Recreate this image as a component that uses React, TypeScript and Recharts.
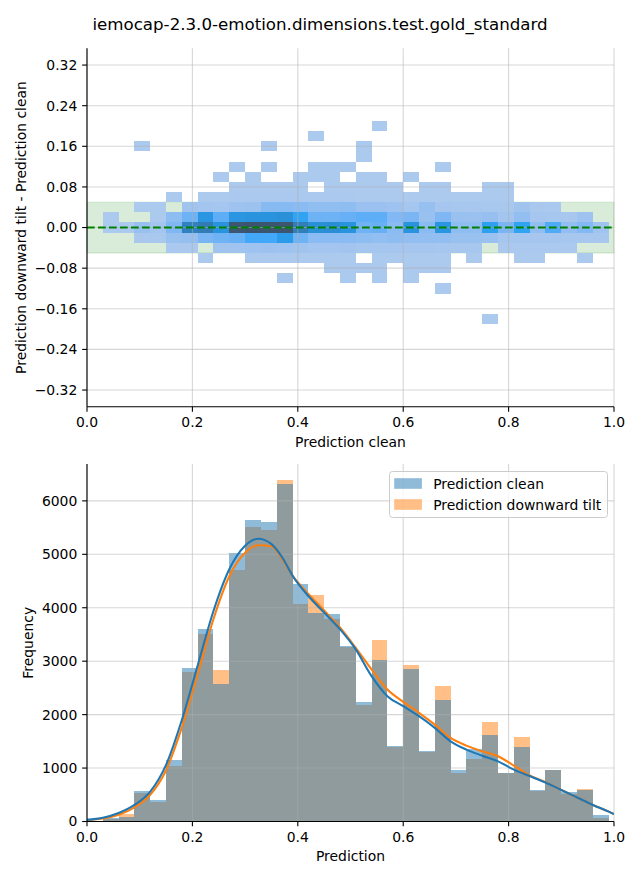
import React from 'react';
import {
  ComposedChart,
  XAxis,
  YAxis,
  Line,
  ReferenceArea,
  ReferenceLine,
  Legend,
  Label,
} from 'recharts';

const FONT = "'DejaVu Sans', 'Liberation Sans', sans-serif";

// ---------- texts ----------
const title = 'iemocap-2.3.0-emotion.dimensions.test.gold_standard';
const topXLabel = 'Prediction clean';
const topYLabel = 'Prediction downward tilt - Prediction clean';
const bottomXLabel = 'Prediction';
const bottomYLabel = 'Frequency';
const seriesNames = ['Prediction clean', 'Prediction downward tilt'];
const seriesColors = ['#1f77b4', '#ff7f0e'];

// ---------- ticks ----------
const predTicks = [0, 0.2, 0.4, 0.6, 0.8, 1.0];
const diffTicks = [-0.32, -0.24, -0.16, -0.08, 0, 0.08, 0.16, 0.24, 0.32];
const freqTicks = [0, 1000, 2000, 3000, 4000, 5000, 6000];

// ---------- bins ----------
const binEdges = [
  0.03, 0.06, 0.09, 0.12, 0.15, 0.18, 0.21, 0.24, 0.27, 0.3, 0.33, 0.36, 0.39, 0.42, 0.45, 0.48,
  0.51, 0.54, 0.57, 0.6, 0.63, 0.66, 0.69, 0.72, 0.75, 0.78, 0.81, 0.84, 0.87, 0.9, 0.93, 0.96, 0.99,
];
const diffEdges = [
  0.21, 0.19, 0.17, 0.15, 0.13, 0.11, 0.09, 0.07, 0.05, 0.03, 0.01, -0.01, -0.03, -0.05, -0.07,
  -0.09, -0.11, -0.13, -0.15, -0.17, -0.19,
];

// ---------- 2D histogram counts (rows top -> bottom, columns = prediction bins) ----------
const heatCounts = [
  [0,0,0,0,0,0,0,0,0,0, 0,0,0,0,0,0,0,1,0,0, 0,0,0,0,0,0,0,0,0,0, 0,0],
  [0,0,0,0,0,0,0,0,0,0, 0,0,0,1,0,0,0,0,0,0, 0,0,0,0,0,0,0,0,0,0, 0,0],
  [0,0,1,0,0,0,0,0,0,0, 1,0,0,0,0,0,1,0,0,0, 0,0,0,0,0,0,0,0,0,0, 0,0],
  [0,0,0,0,0,0,0,0,0,0, 0,0,0,0,0,0,1,0,0,0, 0,0,0,0,0,0,0,0,0,0, 0,0],
  [0,0,0,0,0,0,0,0,1,0, 1,0,0,2,1,1,0,0,0,0, 0,1,0,0,0,0,0,0,0,0, 0,0],
  [0,0,0,0,0,0,0,2,0,2, 0,0,2,3,2,0,2,3,0,2, 0,0,0,0,0,0,0,0,0,0, 0,0],
  [0,0,0,0,0,0,0,0,4,5, 6,5,4,0,5,4,6,5,4,0, 4,3,0,0,2,2,0,0,0,0, 0,0],
  [0,0,0,0,3,0,8,12,20,25, 30,30,25,20,20,18,15,15,12,10, 10,8,6,5,4,3,0,0,0,0, 0,0],
  [0,0,5,8,0,180,150,120,230,260, 520,560,500,420,420,450,280,280,230,120, 330,100,80,70,60,50,180,40,30,0, 0,0],
  [4,0,0,15,450,850,1800,1000,1800,1900, 1900,2000,1400,850,850,900,1000,1000,600,700, 300,650,300,280,320,130,380,100,90,90, 230,0],
  [8,12,300,150,650,2500,2700,1900,3900,4000, 3950,3980,2600,2000,2100,1900,800,900,500,1900, 500,1800,450,450,1500,700,1400,400,1100,400, 600,200],
  [0,0,40,60,300,350,700,800,900,1200, 1200,1600,800,500,500,500,450,400,450,400, 380,400,300,300,280,120,120,100,100,90, 90,80],
  [0,0,0,0,30,30,0,180,200,220, 250,220,180,150,150,170,120,120,100,100, 100,90,80,70,0,30,30,25,25,20, 0,0],
  [0,0,0,0,0,0,2,0,0,10, 12,12,10,10,8,8,0,6,5,6, 5,5,0,3,0,0,2,2,0,0, 2,0],
  [0,0,0,0,0,0,0,0,0,0, 0,0,0,0,3,3,2,2,0,2, 2,2,0,0,0,0,0,0,0,0, 0,0],
  [0,0,0,0,0,0,0,0,0,0, 0,1,0,0,0,1,0,1,0,1, 0,0,0,0,0,0,0,0,0,0, 0,0],
  [0,0,0,0,0,0,0,0,0,0, 0,0,0,0,0,0,0,0,0,0, 0,1,0,0,0,0,0,0,0,0, 0,0],
  [0,0,0,0,0,0,0,0,0,0, 0,0,0,0,0,0,0,0,0,0, 0,0,0,0,0,0,0,0,0,0, 0,0],
  [0,0,0,0,0,0,0,0,0,0, 0,0,0,0,0,0,0,0,0,0, 0,0,0,0,0,0,0,0,0,0, 0,0],
  [0,0,0,0,0,0,0,0,0,0, 0,0,0,0,0,0,0,0,0,0, 0,0,0,0,1,0,0,0,0,0, 0,0],
];

// tolerance band and zero reference
const bandLow = -0.05;
const bandHigh = 0.05;
const zeroLine = [
  { x: 0, y: 0 },
  { x: 1, y: 0 },
];

// ---------- 1D histograms ----------
const cleanCounts = [
  70, 80, 575, 394, 1157, 2864, 3596, 2564, 5016, 5641, 5610, 6317, 4440, 3896, 3877, 3280,
  2239, 3014, 1407, 2846, 1313, 2283, 957, 1363, 1620, 900, 1401, 594, 965, 544, 594, 125,
];
const tiltCounts = [
  40, 140, 525, 356, 1032, 2796, 3515, 2827, 4703, 5510, 5453, 6392, 4065, 4234, 3784, 3260,
  2189, 3390, 1395, 2921, 1295, 2545, 913, 1176, 1870, 900, 1589, 575, 960, 507, 613, 69,
];

// ---------- KDE curves ----------
const kdeX = [
  0, 0.03, 0.06, 0.09, 0.12, 0.15, 0.18, 0.21, 0.24, 0.27, 0.3, 0.325, 0.35, 0.37, 0.39, 0.42,
  0.45, 0.48, 0.51, 0.54, 0.57, 0.6, 0.63, 0.66, 0.69, 0.72, 0.75, 0.78, 0.81, 0.84, 0.87, 0.9,
  0.93, 0.96, 0.99, 1.0,
];
const kdeClean = [
  30, 70, 160, 310, 560, 1060, 1900, 2920, 3940, 4720, 5160, 5290, 5190, 4950, 4600, 4220,
  3910, 3600, 3220, 2720, 2345, 2158, 1970, 1751, 1501, 1345, 1232, 1126, 970, 850, 730, 590,
  450, 310, 185, 140,
];
const kdeTilt = [
  25, 55, 125, 265, 500, 960, 1760, 2760, 3790, 4590, 5030, 5170, 5150, 4920, 4600, 4260,
  3950, 3630, 3250, 2846, 2470, 2239, 2033, 1814, 1563, 1420, 1313, 1220, 1044, 860, 735, 590,
  450, 310, 185, 140,
];

const kdeCleanData = kdeX.map((x, i) => ({ x, y: kdeClean[i] }));
const kdeTiltData = kdeX.map((x, i) => ({ x, y: kdeTilt[i] }));

// ---------- HUSL colormap (seaborn-style from a single color) ----------
const M = [
  [3.240969941904521, -1.537383177570093, -0.498610760293],
  [-0.96924363628087, 1.87596750150772, 0.041555057407175],
  [0.055630079696993, -0.20397695888897, 1.056971514242878],
];
const MINV = [
  [0.41239079926595, 0.35758433938387, 0.18048078840183],
  [0.21263900587151, 0.71516867876775, 0.072192315360733],
  [0.019330818715591, 0.11919477979462, 0.95053215224966],
];
const REF_U = 0.19783000664283;
const REF_V = 0.46831999493879;
const KAPPA = 903.2962962;
const EPS = 0.0088564516;

function getBounds(L: number) {
  const out: [number, number][] = [];
  const sub1 = Math.pow(L + 16, 3) / 1560896;
  const sub2 = sub1 > EPS ? sub1 : L / KAPPA;
  for (let c = 0; c < 3; c++) {
    const [m1, m2, m3] = M[c];
    for (let t = 0; t < 2; t++) {
      const top1 = (284517 * m1 - 94839 * m3) * sub2;
      const top2 = (838422 * m3 + 769860 * m2 + 731718 * m1) * L * sub2 - 769860 * t * L;
      const bottom = (632260 * m3 - 126452 * m2) * sub2 + 126452 * t;
      out.push([top1 / bottom, top2 / bottom]);
    }
  }
  return out;
}
function maxChroma(L: number, H: number) {
  const hrad = (H / 360) * Math.PI * 2;
  let min = Infinity;
  for (const [slope, intercept] of getBounds(L)) {
    const len = intercept / (Math.sin(hrad) - slope * Math.cos(hrad));
    if (len >= 0) min = Math.min(min, len);
  }
  return min;
}
const fromLinear = (c: number) => (c <= 0.0031308 ? 12.92 * c : 1.055 * Math.pow(c, 1 / 2.4) - 0.055);
const toLinear = (c: number) => (c > 0.04045 ? Math.pow((c + 0.055) / 1.055, 2.4) : c / 12.92);

function huslToRgb(H: number, S: number, L: number) {
  if (L > 99.9999999) return [1, 1, 1];
  if (L < 1e-8) return [0, 0, 0];
  const C = (maxChroma(L, H) / 100) * S;
  const hr = (H / 180) * Math.PI;
  const U = Math.cos(hr) * C;
  const V = Math.sin(hr) * C;
  const varU = U / (13 * L) + REF_U;
  const varV = V / (13 * L) + REF_V;
  const Y = L <= 8 ? L / KAPPA : Math.pow((L + 16) / 116, 3);
  const X = 0 - (9 * Y * varU) / ((varU - 4) * varV - varU * varV);
  const Z = (9 * Y - 15 * varV * Y - varV * X) / (3 * varV);
  return M.map((r) => fromLinear(r[0] * X + r[1] * Y + r[2] * Z));
}
function rgbToHusl(hex: string) {
  const r = toLinear(parseInt(hex.slice(1, 3), 16) / 255);
  const g = toLinear(parseInt(hex.slice(3, 5), 16) / 255);
  const b = toLinear(parseInt(hex.slice(5, 7), 16) / 255);
  const X = MINV[0][0] * r + MINV[0][1] * g + MINV[0][2] * b;
  const Y = MINV[1][0] * r + MINV[1][1] * g + MINV[1][2] * b;
  const Z = MINV[2][0] * r + MINV[2][1] * g + MINV[2][2] * b;
  const L = Y <= EPS ? Y * KAPPA : 116 * Math.pow(Y, 1 / 3) - 16;
  const d = X + 15 * Y + 3 * Z;
  const U = 13 * L * ((4 * X) / d - REF_U);
  const V = 13 * L * ((9 * Y) / d - REF_V);
  const C = Math.sqrt(U * U + V * V);
  let H = (Math.atan2(V, U) * 180) / Math.PI;
  if (H < 0) H += 360;
  const S = (C / maxChroma(L, H)) * 100;
  return [H, S, L];
}

const [baseH, baseS] = rgbToHusl(seriesColors[0]);
const positiveCounts = heatCounts.flat().filter((c) => c > 0);
const vmin = Math.min(...positiveCounts);
const vmax = Math.max(...positiveCounts);

function toHex(v: number) {
  const n = Math.round(Math.min(1, Math.max(0, v)) * 255);
  return n.toString(16).padStart(2, '0');
}
function cmapColor(count: number) {
  const t = (count - vmin) / (vmax - vmin);
  let j = Math.floor(t * 256);
  if (j > 255) j = 255;
  if (j < 0) j = 0;
  const i = 255 - j;
  const L = 35 + (45 * i) / 255;
  const xx = -1 + (2 * i) / 293;
  const S = baseS * Math.cos(xx);
  const [r, g, b] = huslToRgb(baseH, S, L);
  return '#' + toHex(r) + toHex(g) + toHex(b);
}

// ---------- helpers ----------
const tickStyle = { fill: '#000', fontSize: 13.9, fontFamily: FONT };
const axisLineStyle = { stroke: '#000', strokeWidth: 1.1 };
const fmtPred = (v: number) => v.toFixed(1);
const fmtDiff = (v: number) => (v < 0 ? '\u2212' : '') + Math.abs(v).toFixed(2);
const fmtFreq = (v: number) => String(v);

const gridStroke = '#b0b0b0';

function xLabel(text: string) {
  return (props: any) => {
    const vb = props.viewBox;
    return (
      <text
        x={vb.x + vb.width / 2}
        y={vb.y + 39.7}
        textAnchor="middle"
        fontSize={13.9}
        fontFamily={FONT}
        fill="#000"
      >
        {text}
      </text>
    );
  };
}
function yLabel(text: string, baselineX: number) {
  return (props: any) => {
    const vb = props.viewBox;
    const cy = vb.y + vb.height / 2;
    return (
      <text
        x={baselineX}
        y={cy}
        transform={`rotate(-90, ${baselineX}, ${cy})`}
        textAnchor="middle"
        fontSize={13.9}
        fontFamily={FONT}
        fill="#000"
      >
        {text}
      </text>
    );
  };
}

const renderLegend = () => (
  <svg width={219} height={47} style={{ display: 'block' }}>
    <rect x={0.5} y={0.5} width={218} height={46} rx={3} ry={3} fill="#ffffff" fillOpacity={0.8} stroke="#cccccc" strokeWidth={1} />
    {seriesNames.map((name, i) => (
      <g key={name}>
        <rect x={5.2} y={7.2 + i * 21} width={27.7} height={10.6} fill={seriesColors[i]} fillOpacity={0.5} />
        <text x={44.2} y={17.8 + i * 21} fontSize={13.9} fontFamily={FONT} fill="#000">
          {name}
        </text>
      </g>
    ))}
  </svg>
);

export default function App() {
  const cells: React.ReactNode[] = [];
  heatCounts.forEach((row, r) => {
    row.forEach((count, c) => {
      if (count <= 0) return;
      cells.push(
        <ReferenceArea
          key={`cell-${r}-${c}`}
          x1={binEdges[c]}
          x2={binEdges[c + 1]}
          y1={diffEdges[r + 1]}
          y2={diffEdges[r]}
          fill={cmapColor(count)}
          fillOpacity={1}
          stroke="none"
          shapeRendering="crispEdges"
          ifOverflow="visible"
        />
      );
    });
  });

  return (
    <div style={{ position: 'absolute', left: 0, top: 0, width: 640, height: 880, background: '#fff' }}>
      <svg width={640} height={40} style={{ position: 'absolute', left: 0, top: 0 }}>
        <text x={320} y={30.3} textAnchor="middle" fontSize={16.67} fontFamily={FONT} fill="#000">
          {title}
        </text>
      </svg>

      {/* ---------- top: 2D histogram ---------- */}
      <div style={{ position: 'absolute', left: 0, top: 0 }}>
        <ComposedChart width={640} height={455} margin={{ top: 48.3, right: 26, bottom: 3.2, left: 0 }}>
          <XAxis
            type="number"
            dataKey="x"
            domain={[0, 1]}
            ticks={predTicks}
            interval={0}
            allowDataOverflow
            tickFormatter={fmtPred}
            tick={tickStyle}
            tickSize={4.86}
            tickMargin={5.55}
            axisLine={axisLineStyle}
            tickLine={axisLineStyle}
            height={45}
          >
            <Label content={xLabel(topXLabel)} />
          </XAxis>
          <YAxis
            type="number"
            dataKey="y"
            domain={[-0.353, 0.353]}
            ticks={diffTicks}
            interval={0}
            allowDataOverflow
            tickFormatter={fmtDiff}
            tick={tickStyle}
            tickSize={4.86}
            tickMargin={4.86}
            axisLine={axisLineStyle}
            tickLine={axisLineStyle}
            width={87}
          >
            <Label content={yLabel(topYLabel, 25.9)} />
          </YAxis>
          <ReferenceArea
            x1={0}
            x2={1}
            y1={bandLow}
            y2={bandHigh}
            fill="#008000"
            fillOpacity={0.15}
            stroke="#008000"
            strokeOpacity={0.12}
            strokeWidth={1.4}
            ifOverflow="visible"
          />
          {cells}
          {diffTicks.map((t) => (
            <ReferenceLine key={`hy-${t}`} y={t} stroke={gridStroke} strokeOpacity={0.5} strokeWidth={1.1} />
          ))}
          {predTicks.map((t) => (
            <ReferenceLine key={`hx-${t}`} x={t} stroke={gridStroke} strokeOpacity={0.5} strokeWidth={1.1} />
          ))}
          <Line
            data={zeroLine}
            dataKey="y"
            type="linear"
            stroke="#008000"
            strokeWidth={2.08}
            strokeDasharray="7.7 3.3"
            dot={false}
            activeDot={false}
            isAnimationActive={false}
          />
        </ComposedChart>
      </div>

      {/* ---------- bottom: histograms + KDE ---------- */}
      <div style={{ position: 'absolute', left: 0, top: 455 }}>
        <ComposedChart width={640} height={425} margin={{ top: 9, right: 26, bottom: 3.5, left: 0 }}>
          <XAxis
            type="number"
            dataKey="x"
            domain={[0, 1]}
            ticks={predTicks}
            interval={0}
            allowDataOverflow
            tickFormatter={fmtPred}
            tick={tickStyle}
            tickSize={4.86}
            tickMargin={5.55}
            axisLine={axisLineStyle}
            tickLine={axisLineStyle}
            height={55}
          >
            <Label content={xLabel(bottomXLabel)} />
          </XAxis>
          <YAxis
            type="number"
            dataKey="y"
            domain={[0, 6690]}
            ticks={freqTicks}
            interval={0}
            allowDataOverflow
            tickFormatter={fmtFreq}
            tick={tickStyle}
            tickSize={4.86}
            tickMargin={4.86}
            axisLine={axisLineStyle}
            tickLine={axisLineStyle}
            width={87}
          >
            <Label content={yLabel(bottomYLabel, 33.0)} />
          </YAxis>
          {tiltCounts.map((v, i) => (
            <ReferenceArea
              key={`t-${i}`}
              x1={binEdges[i]}
              x2={binEdges[i + 1]}
              y1={0}
              y2={v}
              fill={seriesColors[1]}
              fillOpacity={0.5}
              stroke="none"
              shapeRendering="crispEdges"
              ifOverflow="visible"
            />
          ))}
          {cleanCounts.map((v, i) => (
            <ReferenceArea
              key={`c-${i}`}
              x1={binEdges[i]}
              x2={binEdges[i + 1]}
              y1={0}
              y2={v}
              fill={seriesColors[0]}
              fillOpacity={0.5}
              stroke="none"
              shapeRendering="crispEdges"
              ifOverflow="visible"
            />
          ))}
          {freqTicks.map((t) => (
            <ReferenceLine key={`by-${t}`} y={t} stroke={gridStroke} strokeOpacity={0.5} strokeWidth={1.1} />
          ))}
          {predTicks.map((t) => (
            <ReferenceLine key={`bx-${t}`} x={t} stroke={gridStroke} strokeOpacity={0.5} strokeWidth={1.1} />
          ))}
          <Line
            data={kdeTiltData}
            dataKey="y"
            type="monotone"
            stroke={seriesColors[1]}
            strokeWidth={2.08}
            dot={false}
            activeDot={false}
            isAnimationActive={false}
          />
          <Line
            data={kdeCleanData}
            dataKey="y"
            type="monotone"
            stroke={seriesColors[0]}
            strokeWidth={2.08}
            dot={false}
            activeDot={false}
            isAnimationActive={false}
          />
          <Legend
            layout="vertical"
            align="center"
            verticalAlign="middle"
            content={renderLegend}
            wrapperStyle={{ left: 388.8, top: 15.5, width: 219, height: 47, right: 'auto', bottom: 'auto', margin: 0 }}
          />
        </ComposedChart>
      </div>
    </div>
  );
}
